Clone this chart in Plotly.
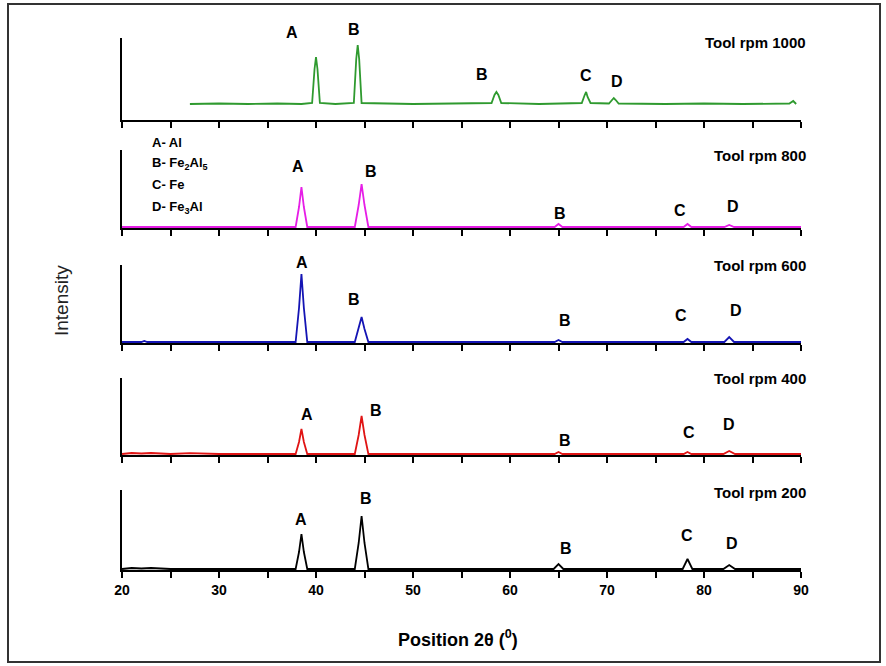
import plotly.graph_objects as go

# ---------------- data (intensity, arbitrary units) ----------------
rpm_labels = ["Tool rpm 1000", "Tool rpm 800", "Tool rpm 600", "Tool rpm 400", "Tool rpm 200"]
colors = ["#2f9a2f", "#e61ee6", "#1414b4", "#e01414", "#000000"]

x_1000 = [27, 30, 33, 36, 38.5, 39.6, 39.85, 40.0, 40.15, 40.4, 42, 43.9, 44.15, 44.3, 44.45, 44.7, 50,
          58.1, 58.4, 58.6, 58.8, 59.1, 63, 66, 67.4, 67.7, 67.85, 68.0, 68.3, 70.2, 70.5, 70.7, 70.9, 71.2,
          76, 80, 84, 88.8, 89.2, 89.5]
y_1000 = [15, 15.5, 15, 15.5, 15, 16, 50, 62, 50, 16, 15, 16, 60, 74, 60, 16, 15,
          16, 24, 27, 24, 16, 15, 15.5, 16, 24, 27, 22, 16, 15.5, 19, 21, 19, 15.5,
          15, 15.5, 15, 15.5, 18, 15]

x_800 = [20, 30, 37.9, 38.25, 38.5, 38.75, 39.1, 44.0, 44.4, 44.7, 45.0, 45.4, 64.6, 65.0, 65.4,
         77.9, 78.3, 78.7, 82.1, 82.6, 83.1, 90]
y_800 = [0, 0, 0, 20, 40, 20, 0, 0, 22, 43, 22, 0, 0, 3, 0,
         0, 3, 0, 0, 2, 0, 0]

x_600 = [20, 22, 22.3, 22.6, 30, 37.9, 38.25, 38.5, 38.75, 39.1, 44.0, 44.4, 44.7, 45.0, 45.4,
         64.6, 65.0, 65.4, 77.9, 78.3, 78.7, 82.1, 82.6, 83.1, 90]
y_600 = [0, 0, 1, 0, 0, 0, 34, 68, 34, 0, 0, 13, 25, 13, 0,
         0, 2, 0, 0, 3, 0, 0, 5, 0, 0]

x_400 = [20, 21, 22, 23, 24, 25, 27, 30, 37.9, 38.25, 38.5, 38.75, 39.1, 44.0, 44.4, 44.7, 45.0, 45.4,
         64.6, 65.0, 65.4, 77.9, 78.3, 78.7, 82.0, 82.6, 83.2, 90]
y_400 = [0, 1, 0.5, 1, 0.5, 0, 0.8, 0, 0, 12, 25, 12, 0, 0, 19, 38, 19, 0,
         0, 2, 0, 0, 2, 0, 0, 3, 0, 0]

x_200 = [20, 21, 22, 23, 24, 25, 30, 37.9, 38.25, 38.5, 38.75, 39.1, 44.0, 44.4, 44.7, 45.0, 45.4,
         64.5, 65.0, 65.5, 77.8, 78.3, 78.8, 82.0, 82.6, 83.2, 90]
y_200 = [0, 1, 0.5, 1, 0.5, 0, 0, 0, 17, 35, 17, 0, 0, 26, 53, 26, 0,
         0, 5, 0, 0, 10, 0, 0, 4, 0, 0]

series_x = [x_1000, x_800, x_600, x_400, x_200]
series_y = [y_1000, y_800, y_600, y_400, y_200]

# peak-letter labels per panel: letter, 2theta, height above the panel axis
peak_letters = [["A", "B", "B", "C", "D"]] * 5
peak_label_x = [[37.5, 43.9, 57.1, 67.8, 71.0],
                [38.1, 45.7, 65.2, 77.5, 83.0],
                [38.6, 43.9, 65.7, 77.6, 83.3],
                [39.1, 46.2, 65.7, 78.5, 82.6],
                [38.5, 45.2, 65.8, 78.2, 82.9]]
peak_label_y = [[88, 90, 46, 44, 39],
                [62, 56, 15, 18, 22],
                [81, 43, 23, 28, 32],
                [41, 45, 15, 23, 31],
                [51, 72, 22, 35, 27]]

phase_legend = ["A- Al", "B- Fe<sub>2</sub>Al<sub>5</sub>", "C- Fe", "D- Fe<sub>3</sub>Al"]
x_ticks = [20, 30, 40, 50, 60, 70, 80, 90]

# ---------------- layout geometry (pixels) ----------------
W, H = 886, 666
L, R = 122, 801          # x=20 .. x=90
TOP, BOT = 38, 570       # plot area top/bottom
panels_px = [(38, 120), (150, 228), (265, 343), (378, 455), (490, 570)]  # (top, axis)


def px_x(p):
    return (p - L) / (R - L)


def px_y(p):
    return (BOT - p) / (BOT - TOP)


fig = go.Figure()
FONT = "Liberation Sans, Arial, sans-serif"

for i in range(5):
    n = "" if i == 0 else str(i + 1)
    top, axis = panels_px[i]
    hpx = axis - top
    fig.add_trace(go.Scatter(x=series_x[i], y=series_y[i], mode="lines",
                             line=dict(color=colors[i], width=1.8),
                             xaxis="x" + n, yaxis="y" + n, showlegend=False,
                             hoverinfo="skip"))
    bottom = (i == 4)
    fig.layout["xaxis" + n] = dict(
        domain=[0, 1], range=[20, 90], anchor="y" + n,
        showline=True, linecolor="black", linewidth=1.6, layer="below traces",
        ticks="outside", ticklen=6, tickwidth=1.6, tickcolor="black",
        tickvals=x_ticks, showticklabels=bottom, showgrid=False, zeroline=False,
        tickfont=dict(family=FONT, size=14, color="black", weight="bold"),
        minor=dict(ticks="outside", ticklen=6, tickwidth=1.6, tickcolor="black",
                   tick0=20, dtick=5, showgrid=False),
        fixedrange=True,
    )
    fig.layout["yaxis" + n] = dict(
        domain=[px_y(axis), px_y(top)], range=[-1, hpx - 1], anchor="x" + n,
        showline=True, linecolor="black", linewidth=1.6, layer="below traces",
        ticks="", showticklabels=False, showgrid=False, zeroline=False,
        fixedrange=True,
    )
    # peak letters (x in data units, height converted from the panel axis)
    for letter, lx, ly in zip(peak_letters[i], peak_label_x[i], peak_label_y[i]):
        fig.add_annotation(x=lx, y=px_y(axis - ly), xref="x" + n, yref="paper",
                           text="<b>%s</b>" % letter,
                           showarrow=False, font=dict(family=FONT, size=16, color="black"),
                           xanchor="center", yanchor="middle")
    # rpm label
    lab_y = [42, 156, 265, 378, 492][i]
    fig.add_annotation(x=px_x(808), y=px_y(lab_y), xref="paper", yref="paper",
                       text="<b>%s</b>" % rpm_labels[i], showarrow=False,
                       font=dict(family=FONT, size=15, color="black"),
                       xanchor="right", yanchor="middle")

# phase legend
for txt, yy in zip(phase_legend, [143, 164, 185, 207]):
    fig.add_annotation(x=px_x(150), y=px_y(yy), xref="paper", yref="paper",
                       text="<b>%s</b>" % txt, showarrow=False,
                       font=dict(family=FONT, size=13, color="black"),
                       xanchor="left", yanchor="middle")

# axis titles
fig.add_annotation(x=px_x(458), y=px_y(638), xref="paper", yref="paper",
                   text="<b>Position 2θ (<sup>0</sup>)</b>", showarrow=False,
                   font=dict(family=FONT, size=18, color="black"),
                   xanchor="center", yanchor="middle")
fig.add_annotation(x=px_x(62), y=px_y(300), xref="paper", yref="paper",
                   text="Intensity", textangle=-90, showarrow=False,
                   font=dict(family=FONT, size=19, color="#222222"),
                   xanchor="center", yanchor="middle")

# outer frame
fig.add_shape(type="rect", xref="paper", yref="paper",
              x0=px_x(8), x1=px_x(880), y0=px_y(662), y1=px_y(4),
              line=dict(color="#333333", width=2), layer="below")

fig.update_layout(
    width=W, height=H,
    margin=dict(l=L, r=W - R, t=TOP, b=H - BOT, autoexpand=False),
    paper_bgcolor="white", plot_bgcolor="white",
    showlegend=False,
)

fig.write_html("out.html", config={"displayModeBar": False},
               post_script="document.body.style.margin='0';")
